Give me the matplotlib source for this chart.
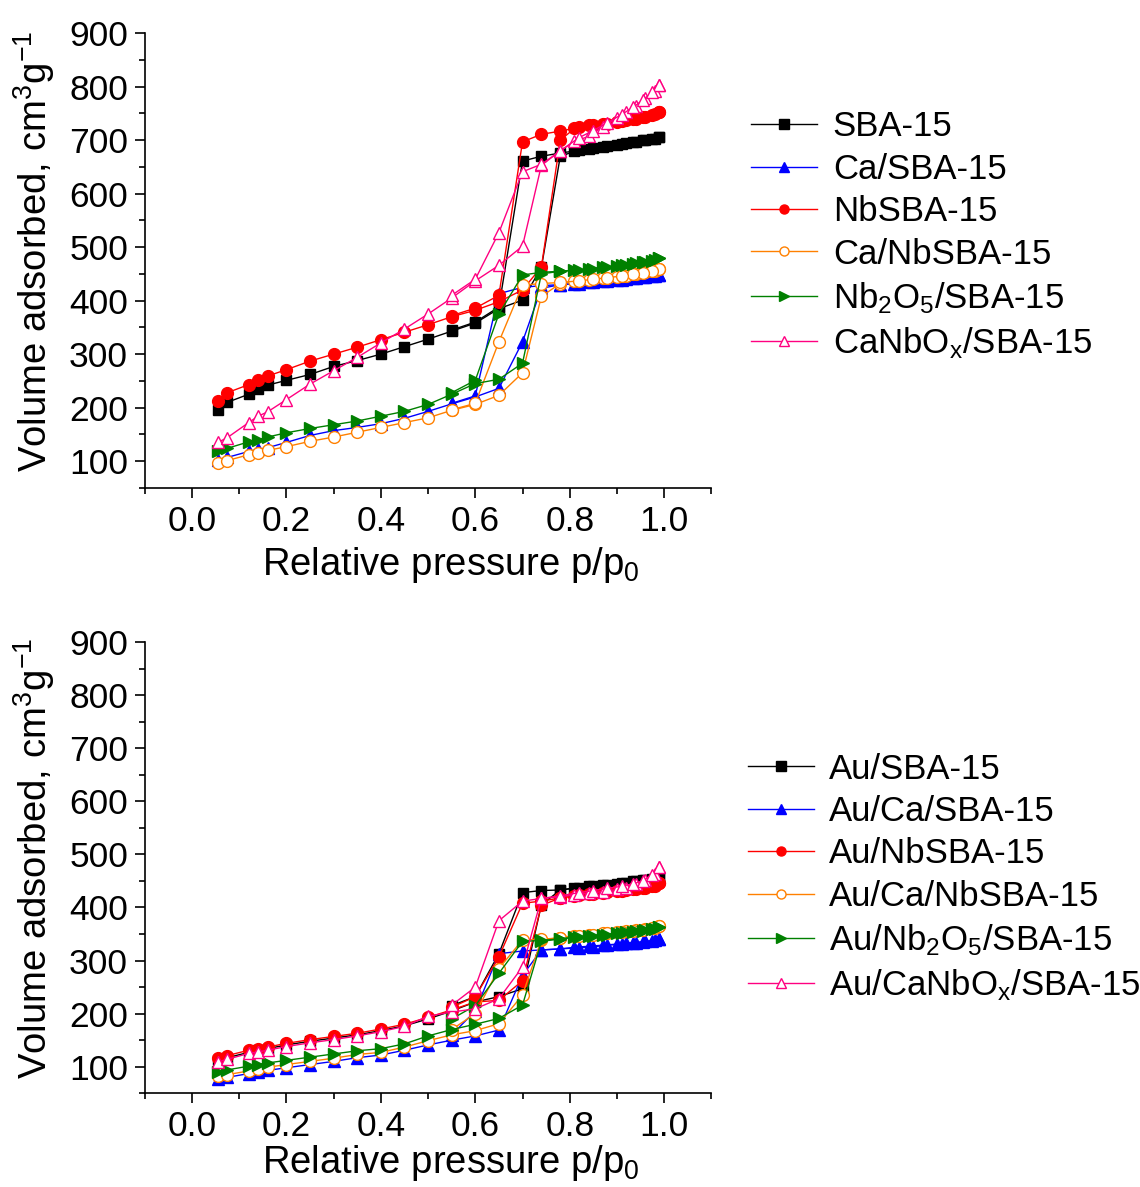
import matplotlib
matplotlib.use('Agg')
import matplotlib.pyplot as plt
from matplotlib.lines import Line2D
from matplotlib.ticker import MultipleLocator

plt.rcParams['font.family'] = ['Liberation Sans', 'DejaVu Sans']
plt.rcParams['mathtext.fontset'] = 'custom'
plt.rcParams['mathtext.rm'] = 'Liberation Sans'
plt.rcParams['mathtext.default'] = 'regular'

# relative pressure points (adsorption / desorption branches)
ads_p = [0.055, 0.075, 0.12, 0.14, 0.16, 0.20, 0.25, 0.30, 0.35, 0.40, 0.45, 0.50, 0.55,
         0.60, 0.65, 0.70, 0.74, 0.78, 0.81, 0.84, 0.87, 0.90, 0.92, 0.94, 0.96, 0.98, 0.99]
des_p = [0.99, 0.975, 0.955, 0.935, 0.91, 0.88, 0.85, 0.82, 0.78, 0.74, 0.70, 0.65, 0.60, 0.55]

# top panel: supports
sba_ads = [195, 210, 225, 234, 242, 251, 262, 277, 288, 300, 314, 328, 343,
           358, 385, 401, 462, 670, 679, 683, 687, 691, 694, 697, 700, 703, 706]
sba_des = [706, 703, 700, 697, 693, 689, 685, 681, 676, 670, 661, 388, 360, 345]
ca_ads = [103, 107, 118, 122, 125, 135, 148, 157, 163, 170, 180, 193, 207,
          220, 236, 323, 423, 430, 432, 434, 436, 438, 440, 442, 444, 446, 448]
ca_des = [448, 446, 444, 442, 439, 436, 434, 432, 430, 428, 425, 413, 222, 208]
nb_ads = [212, 228, 243, 251, 259, 271, 287, 300, 313, 327, 341, 355, 370,
          382, 398, 420, 463, 700, 722, 728, 731, 734, 737, 740, 744, 749, 753]
nb_des = [753, 748, 743, 739, 735, 731, 728, 724, 717, 711, 697, 410, 386, 372]
canb_ads = [96, 101, 112, 116, 120, 127, 137, 145, 154, 163, 172, 181, 195,
            206, 223, 265, 408, 432, 436, 439, 442, 445, 447, 450, 453, 456, 460]
canb_des = [460, 456, 452, 449, 446, 443, 440, 437, 434, 432, 429, 323, 208, 196]
nb2o5_ads = [118, 124, 136, 140, 145, 153, 161, 168, 175, 184, 193, 206, 225,
             245, 253, 283, 450, 455, 457, 459, 462, 465, 467, 470, 473, 476, 479]
nb2o5_des = [479, 475, 472, 469, 466, 463, 460, 457, 455, 453, 448, 375, 251, 228]
canbox_ads = [135, 144, 172, 184, 192, 215, 244, 269, 294, 321, 347, 375, 405,
              437, 466, 502, 653, 680, 698, 707, 725, 742, 752, 764, 778, 792, 803]
canbox_des = [803, 790, 775, 762, 748, 733, 718, 705, 680, 655, 641, 527, 440, 410]

# bottom panel: Au catalysts
au_sba_ads = [112, 117, 127, 131, 134, 141, 148, 154, 160, 168, 177, 190, 205,
              222, 232, 247, 405, 433, 437, 440, 442, 445, 447, 449, 451, 454, 458]
au_sba_des = [458, 454, 451, 449, 446, 443, 440, 437, 433, 432, 428, 313, 232, 215]
au_ca_ads = [76, 80, 87, 90, 93, 98, 104, 110, 117, 122, 131, 141, 150,
             158, 169, 272, 320, 322, 325, 327, 329, 331, 333, 334, 336, 338, 340]
au_ca_des = [340, 337, 335, 333, 331, 329, 326, 324, 322, 320, 318, 313, 205, 160]
au_nb_ads = [116, 121, 131, 134, 137, 144, 151, 157, 163, 171, 180, 193, 207,
             222, 225, 262, 404, 418, 422, 425, 428, 431, 433, 435, 437, 441, 446]
au_nb_des = [446, 440, 437, 435, 432, 429, 426, 423, 418, 412, 408, 307, 232, 212]
au_canb_ads = [82, 85, 92, 95, 99, 104, 110, 116, 123, 127, 137, 149, 160,
               168, 181, 235, 339, 343, 346, 349, 351, 353, 355, 357, 359, 362, 366]
au_canb_des = [366, 361, 358, 356, 353, 351, 348, 346, 343, 340, 339, 285, 200, 170]
au_nb2o5_ads = [90, 94, 101, 104, 107, 112, 118, 124, 130, 134, 143, 158, 170,
                180, 191, 216, 336, 341, 344, 347, 349, 351, 353, 355, 357, 360, 364]
au_nb2o5_des = [364, 359, 356, 354, 351, 349, 346, 344, 341, 338, 336, 276, 215, 190]
au_canbox_ads = [109, 114, 125, 128, 131, 138, 145, 151, 158, 166, 176, 195, 203,
                 209, 228, 288, 417, 420, 424, 427, 430, 434, 437, 445, 452, 464, 476]
au_canbox_des = [476, 462, 450, 445, 440, 436, 432, 428, 422, 417, 412, 375, 250, 216]

top_labels = ['SBA-15', 'Ca/SBA-15', 'NbSBA-15', 'Ca/NbSBA-15',
              'Nb$_2$O$_5$/SBA-15', 'CaNbO$_x$/SBA-15']
bottom_labels = ['Au/SBA-15', 'Au/Ca/SBA-15', 'Au/NbSBA-15', 'Au/Ca/NbSBA-15',
                 'Au/Nb$_2$O$_5$/SBA-15', 'Au/CaNbO$_x$/SBA-15']

top_data = [(sba_ads, sba_des), (ca_ads, ca_des), (nb_ads, nb_des),
            (canb_ads, canb_des), (nb2o5_ads, nb2o5_des), (canbox_ads, canbox_des)]
bottom_data = [(au_sba_ads, au_sba_des), (au_ca_ads, au_ca_des), (au_nb_ads, au_nb_des),
               (au_canb_ads, au_canb_des), (au_nb2o5_ads, au_nb2o5_des),
               (au_canbox_ads, au_canbox_des)]

colors = ['black', '#0000FF', '#FF0000', '#FF8000', '#008000', '#FF0080']
markers = ['s', '^', 'o', 'o', '>', '^']
filled = [True, True, True, False, True, False]
msizes = [7, 8.5, 8.5, 8.5, 8.5, 9]

fig = plt.figure(figsize=(11.4, 11.87), dpi=100)
ax_top = fig.add_axes([0.127, 0.589, 0.497, 0.383])
ax_bot = fig.add_axes([0.127, 0.079, 0.497, 0.380])


def draw_panel(ax, data, labels, leg_x, leg_y, xlab_y):
    handles = []
    for i, (ads, des) in enumerate(data):
        face = colors[i] if filled[i] else 'white'
        kw = dict(color=colors[i], marker=markers[i], markersize=msizes[i],
                  markerfacecolor=face, markeredgecolor=colors[i],
                  markeredgewidth=1.0, linewidth=1.0)
        ax.plot(ads_p, ads, **kw)
        ax.plot(des_p, des, **kw)
        handles.append(Line2D([], [], color=colors[i], marker=markers[i], markersize=6.5,
                              markerfacecolor=face, markeredgecolor=colors[i],
                              linewidth=1.0))
    ax.set_xlim(-0.1, 1.1)
    ax.set_ylim(50, 900)
    ax.xaxis.set_minor_locator(MultipleLocator(0.1))
    ax.yaxis.set_minor_locator(MultipleLocator(50))
    ax.set_xticks([0.0, 0.2, 0.4, 0.6, 0.8, 1.0])
    ax.set_yticks([100, 200, 300, 400, 500, 600, 700, 800, 900])
    ax.spines['top'].set_visible(False)
    ax.spines['right'].set_visible(False)
    for s in ['left', 'bottom']:
        ax.spines[s].set_linewidth(1.2)
    ax.tick_params(which='major', direction='out', length=7, width=1.2,
                   labelsize=25.5, pad=5)
    ax.tick_params(which='minor', direction='out', length=4, width=1.2)
    ax.set_xlabel('Relative pressure p/p$_0$', fontsize=27.5)
    ax.set_ylabel('Volume adsorbed, cm$^3$g$^{-1}$', fontsize=27.5)
    ax.xaxis.set_label_coords(0.54, xlab_y)
    ax.yaxis.set_label_coords(-0.155, 0.52)
    ax.legend(handles, labels, loc='upper left', bbox_to_anchor=(leg_x, leg_y),
              bbox_transform=fig.transFigure, frameon=False, fontsize=25,
              handlelength=1.9, handletextpad=0.45, labelspacing=0.27,
              borderpad=0, borderaxespad=0, numpoints=1)


draw_panel(ax_top, top_data, top_labels, 0.659, 0.907, -0.125)
draw_panel(ax_bot, bottom_data, bottom_labels, 0.656, 0.366, -0.11)

fig.savefig('out.png', dpi=100)
